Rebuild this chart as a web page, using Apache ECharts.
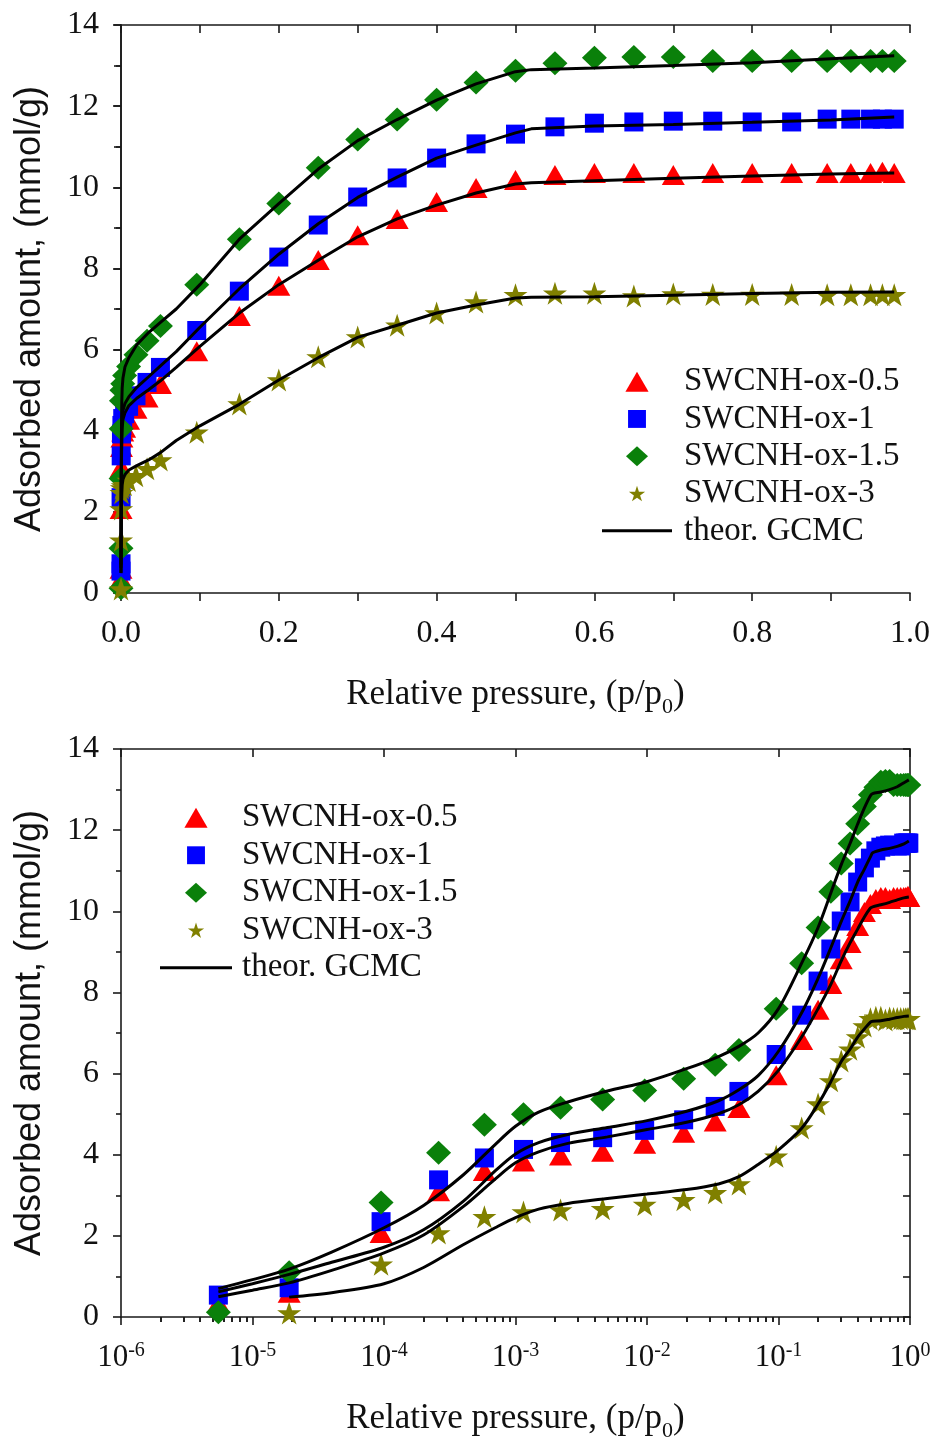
<!DOCTYPE html>
<html>
<head>
<meta charset="utf-8">
<script src="https://cdn.jsdelivr.net/npm/echarts@6/dist/echarts.min.js"></script>
<style>
html,body{margin:0;padding:0;background:#fff;}
#chart{width:932px;height:1438px;}
</style>
</head>
<body>
<div id="chart"></div>
<script>
// ---- measured isotherms (relative pressure p/p0) ----
const pressure = [5.5e-6, 1.9e-5, 9.5e-5, 2.6e-4, 5.8e-4, 1.15e-3, 2.2e-3, 4.6e-3, 9.6e-3, 1.9e-2, 3.3e-2, 5.0e-2, 9.6e-2, 0.15, 0.2, 0.25, 0.3, 0.35, 0.4, 0.45, 0.5, 0.55, 0.6, 0.65, 0.7, 0.75, 0.8, 0.85, 0.895, 0.925, 0.95, 0.965, 0.98];
const ox05 = [0.35, 0.6, 2.07, 3.1, 3.6, 3.83, 3.98, 4.07, 4.27, 4.54, 4.82, 5.15, 5.96, 6.83, 7.57, 8.21, 8.82, 9.22, 9.64, 9.98, 10.18, 10.3, 10.35, 10.35, 10.3, 10.35, 10.35, 10.35, 10.35, 10.35, 10.35, 10.38, 10.35];
const ox1 = [0.54, 0.72, 2.35, 3.38, 3.92, 4.13, 4.30, 4.42, 4.6, 4.86, 5.19, 5.56, 6.47, 7.44, 8.28, 9.07, 9.76, 10.23, 10.72, 11.07, 11.31, 11.49, 11.58, 11.61, 11.63, 11.63, 11.61, 11.61, 11.68, 11.68, 11.68, 11.68, 11.68];
const ox15 = [0.12, 1.1, 2.82, 4.05, 4.74, 5.0, 5.16, 5.36, 5.58, 5.87, 6.22, 6.58, 7.6, 8.72, 9.6, 10.48, 11.18, 11.67, 12.16, 12.58, 12.87, 13.06, 13.19, 13.21, 13.21, 13.11, 13.11, 13.11, 13.11, 13.11, 13.11, 13.11, 13.11];
const ox3 = [null, 0.1, 1.3, 2.07, 2.47, 2.59, 2.64, 2.67, 2.77, 2.89, 3.06, 3.28, 3.96, 4.66, 5.25, 5.82, 6.31, 6.6, 6.9, 7.17, 7.35, 7.39, 7.39, 7.32, 7.37, 7.36, 7.36, 7.36, 7.35, 7.35, 7.35, 7.35, 7.35];

// ---- theoretical GCMC curves ----
const gcmcP = [5.5e-6, 1e-5, 1.9e-5, 4e-5, 1e-4, 2e-4, 4e-4, 7e-4, 1e-3, 1.5e-3, 2.5e-3, 5e-3, 1e-2, 2e-2, 3.5e-2, 5e-2, 7e-2, 0.1, 0.15, 0.2, 0.25, 0.3, 0.35, 0.4, 0.45, 0.5, 0.52, 0.6, 0.7, 0.8, 0.9, 0.98];
const gcmc05 = [0.5, 0.66, 0.84, 1.15, 1.58, 2.02, 2.72, 3.4, 3.8, 4.07, 4.28, 4.44, 4.62, 4.8, 5.01, 5.23, 5.56, 6.08, 6.9, 7.6, 8.2, 8.78, 9.22, 9.56, 9.86, 10.08, 10.11, 10.16, 10.22, 10.28, 10.33, 10.35];
const gcmc1 = [0.62, 0.82, 1.05, 1.35, 1.72, 2.15, 2.85, 3.6, 4.02, 4.3, 4.5, 4.67, 4.84, 5.07, 5.33, 5.6, 5.95, 6.55, 7.5, 8.35, 9.1, 9.75, 10.25, 10.72, 11.04, 11.34, 11.44, 11.51, 11.55, 11.6, 11.66, 11.73];
const gcmc15 = [0.7, 0.92, 1.18, 1.6, 2.2, 2.75, 3.5, 4.25, 4.7, 5.05, 5.3, 5.57, 5.8, 6.12, 6.42, 6.67, 7.0, 7.6, 8.72, 9.6, 10.45, 11.15, 11.67, 12.15, 12.55, 12.85, 12.9, 12.94, 13.0, 13.07, 13.17, 13.24];
const gcmc3 = [null, null, 0.49, 0.6, 0.82, 1.22, 1.78, 2.2, 2.45, 2.66, 2.8, 2.92, 3.03, 3.14, 3.28, 3.46, 3.76, 4.12, 4.65, 5.25, 5.8, 6.3, 6.6, 6.9, 7.1, 7.27, 7.29, 7.3, 7.34, 7.38, 7.41, 7.42];

// ---- ticks ----
const logMajorTicks = [1e-6, 1e-5, 1e-4, 1e-3, 1e-2, 1e-1, 1];
const logMinorMultipliers = [2, 3, 4, 5, 6, 7, 8, 9];
const seriesNames = ['SWCNH-ox-0.5', 'SWCNH-ox-1', 'SWCNH-ox-1.5', 'SWCNH-ox-3'];
const gcmcName = 'theor. GCMC';

const SERIF = 'Liberation Serif';
const SANS = 'Liberation Sans';
const STAR = 'path://M50,0 L61.8,36.2 L100,36.2 L69.1,58.8 L80.9,95.1 L50,72.7 L19.1,95.1 L30.9,58.8 L0,36.2 L38.2,36.2 Z';
const colors = ['#ff0000', '#0000ff', '#0a800a', '#808000'];
const symbols = ['triangle', 'rect', 'diamond', STAR];
const symbolSizes = [[23, 20], [19, 19], [25, 24], [24, 23]];
// legend icons (paths keep their aspect inside the legend box)
const legendIcons = [
  'path://M11,0 L22,19 L0,19 Z',
  'path://M-1,-1 L-1,-1 M0,0 L17,0 L17,17 L0,17 Z M18,18 L18,18',
  'path://M11,0 L22,10 L11,20 L0,10 Z',
  'path://M-14,-14 L-14,-14 M50,0 L61.8,36.2 L100,36.2 L69.1,58.8 L80.9,95.1 L50,72.7 L19.1,95.1 L30.9,58.8 L0,36.2 L38.2,36.2 Z M114,109 L114,109'
];
const lineIcon = 'path://M0,0 L70,0 L70,3 L0,3 Z';
const measured = [ox05, ox1, ox15, ox3];
const gcmc = [gcmc05, gcmc1, gcmc15, gcmc3];

const logMinorTicks = [];
logMajorTicks.slice(0, -1).forEach(function (d) {
  logMinorMultipliers.forEach(function (m) { logMinorTicks.push(d * m); });
});

function pairs(xs, ys) {
  const out = [];
  for (let i = 0; i < xs.length; i++) {
    if (ys[i] !== null && ys[i] !== undefined) out.push([xs[i], ys[i]]);
  }
  return out;
}

const axisLineStyle = { color: '#1a1a1a', width: 1.6 };
const nameRich = {
  m: { fontFamily: SERIF, fontSize: 35, color: '#111', lineHeight: 46 },
  sub: { fontFamily: SERIF, fontSize: 22, color: '#111', lineHeight: 46, verticalAlign: 'bottom' }
};
const xName = '{m|Relative pressure, (p/p}{sub|0}{m|)}';
const yName = 'Adsorbed amount, (mmol/g)';

function yAxesFor(grid) {
  return [
    {
      gridIndex: grid, type: 'value', min: 0, max: 14, interval: 2, position: 'left',
      axisLine: { show: true, lineStyle: axisLineStyle },
      axisTick: { show: true, inside: false, length: 8, lineStyle: axisLineStyle },
      minorTick: { show: true, splitNumber: 2, length: 5, lineStyle: axisLineStyle },
      splitLine: { show: false },
      axisLabel: { fontFamily: SERIF, fontSize: 32, color: '#111', margin: 22 },
      name: yName, nameLocation: 'middle', nameRotate: 90, nameGap: 73,
      nameTextStyle: { fontFamily: SANS, fontSize: 36, color: '#111' }
    },
    {
      gridIndex: grid, type: 'value', min: 0, max: 14, interval: 1, position: 'right',
      axisLine: { show: true, lineStyle: axisLineStyle },
      axisTick: { show: true, inside: true, length: 7, lineStyle: axisLineStyle },
      axisLabel: { show: false }, splitLine: { show: false }
    }
  ];
}

const xAxes = [
  // top chart, linear
  {
    gridIndex: 0, type: 'value', min: 0, max: 1, interval: 0.2, position: 'bottom',
    axisLine: { show: true, onZero: false, lineStyle: axisLineStyle },
    axisTick: { show: true, inside: false, length: 8, lineStyle: axisLineStyle },
    minorTick: { show: true, splitNumber: 2, length: 8, lineStyle: axisLineStyle },
    splitLine: { show: false },
    axisLabel: { fontFamily: SERIF, fontSize: 32, color: '#111', margin: 25,
      formatter: function (v) { return v.toFixed(1); } },
    name: xName, nameLocation: 'middle', nameGap: 79,
    nameTextStyle: { rich: nameRich }
  },
  {
    gridIndex: 0, type: 'value', min: 0, max: 1, interval: 0.1, position: 'top',
    axisLine: { show: true, onZero: false, lineStyle: axisLineStyle },
    axisTick: { show: true, inside: true, length: 8, lineStyle: axisLineStyle },
    axisLabel: { show: false }, splitLine: { show: false }
  },
  // bottom chart, logarithmic
  {
    gridIndex: 1, type: 'log', logBase: 10, min: 1e-6, max: 1, position: 'bottom',
    axisLine: { show: true, onZero: false, lineStyle: axisLineStyle },
    axisTick: { show: true, inside: false, length: 8, lineStyle: axisLineStyle, customValues: logMajorTicks },
    splitLine: { show: false },
    axisLabel: {
      margin: 24, customValues: logMajorTicks,
      formatter: function (v) { return '{b|10}{s|' + Math.round(Math.log10(v)) + '}'; },
      rich: {
        b: { fontFamily: SERIF, fontSize: 31, color: '#111', lineHeight: 34 },
        s: { fontFamily: SERIF, fontSize: 20, color: '#111', lineHeight: 34, verticalAlign: 'top' }
      }
    },
    name: xName, nameLocation: 'middle', nameGap: 79,
    nameTextStyle: { rich: nameRich }
  },
  {
    gridIndex: 1, type: 'log', logBase: 10, min: 1e-6, max: 1, position: 'bottom',
    axisLine: { show: false },
    axisTick: { show: true, inside: false, length: 5, lineStyle: axisLineStyle, customValues: logMinorTicks },
    axisLabel: { show: false }, splitLine: { show: false }
  },
  {
    gridIndex: 1, type: 'log', logBase: 10, min: 1e-6, max: 1, position: 'top',
    axisLine: { show: true, onZero: false, lineStyle: axisLineStyle },
    axisTick: { show: true, inside: true, length: 8, lineStyle: axisLineStyle, customValues: logMajorTicks },
    axisLabel: { show: false }, splitLine: { show: false }
  },
  {
    gridIndex: 1, type: 'log', logBase: 10, min: 1e-6, max: 1, position: 'top',
    axisLine: { show: false },
    axisTick: { show: true, inside: true, length: 5, lineStyle: axisLineStyle, customValues: logMinorTicks },
    axisLabel: { show: false }, splitLine: { show: false }
  }
];

const series = [];
function addChart(xIdx, yIdx, smooth) {
  for (let k = 0; k < 4; k++) {
    series.push({
      type: 'scatter', name: seriesNames[k], xAxisIndex: xIdx, yAxisIndex: yIdx,
      symbol: symbols[k], symbolSize: symbolSizes[k],
      itemStyle: { color: colors[k], opacity: 1 },
      data: pairs(pressure, measured[k]), z: 2
    });
  }
  for (let k = 0; k < 4; k++) {
    series.push({
      type: 'line', name: gcmcName, xAxisIndex: xIdx, yAxisIndex: yIdx,
      symbol: 'none', smooth: smooth,
      lineStyle: { color: '#000', width: 3 }, itemStyle: { color: '#000' },
      data: pairs(gcmcP, gcmc[k]), z: 3
    });
  }
}
addChart(0, 0, false);
addChart(2, 2, 0.3);

function legendData() {
  return seriesNames.map(function (n, i) { return { name: n, icon: legendIcons[i] }; })
    .concat([{ name: gcmcName, icon: lineIcon }]);
}

const option = {
  backgroundColor: '#fff',
  animation: false,
  grid: [
    { left: 121, top: 25, width: 789, height: 568, containLabel: false, outerBoundsMode: 'none' },
    { left: 121, top: 749, width: 789, height: 568, containLabel: false, outerBoundsMode: 'none' }
  ],
  xAxis: xAxes,
  yAxis: yAxesFor(0).concat(yAxesFor(1)),
  legend: [
    {
      orient: 'vertical', left: 597, top: 358, itemWidth: 70, itemHeight: 20, itemGap: 0,
      textStyle: { fontFamily: SERIF, fontSize: 33, color: '#111', lineHeight: 37.3, padding: [0, 0, 0, 7] },
      data: legendData()
    },
    {
      orient: 'vertical', left: 155, top: 794, itemWidth: 72, itemHeight: 20, itemGap: 0,
      textStyle: { fontFamily: SERIF, fontSize: 33, color: '#111', lineHeight: 37.5, padding: [0, 0, 0, 5] },
      data: legendData()
    }
  ],
  series: series
};

const chart = echarts.init(document.getElementById('chart'), null, { renderer: 'canvas' });
chart.setOption(option);
</script>
</body>
</html>
